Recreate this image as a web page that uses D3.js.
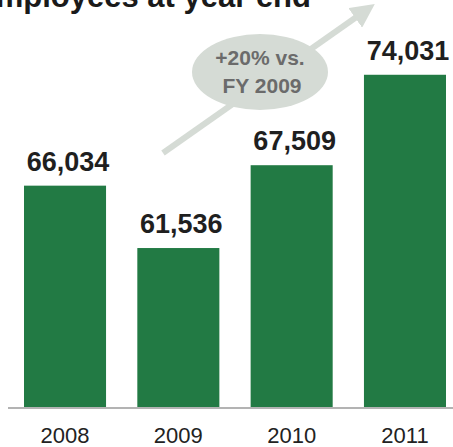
<!DOCTYPE html>
<html>
<head>
<meta charset="utf-8">
<script src="https://cdn.jsdelivr.net/npm/d3@7"></script>
<style>
  body { margin: 0; background: #fff; }
  svg { display: block; font-family: "Liberation Sans", Arial, sans-serif; }
</style>
</head>
<body>
<div class="chart"></div>
<script>
// chart data
var years = ["2008", "2009", "2010", "2011"];
var employees = [66034, 61536, 67509, 74031];
var title = "Employees at year end";
var growthNote = ["+20% vs.", "FY 2009"];

var width = 453, height = 447;
var baseY = 408;

var svg = d3.select(".chart").append("svg")
  .attr("width", width)
  .attr("height", height);

// x: one band per year
var xScale = d3.scaleBand()
  .domain(years)
  .range([24, 446])
  .paddingInner(0.276)
  .paddingOuter(0);

// y axis doesn't start at zero, starts around 50k
var yScale = d3.scaleLinear()
  .domain([50000, 80000])
  .range([baseY, -8]);

// title (top is cut off in the original)
svg.append("text")
  .attr("x", 311)
  .attr("y", 7)
  .attr("text-anchor", "end")
  .style("font-weight", "bold")
  .style("font-size", "31px")
  .style("fill", "#1a1a1a")
  .text(title);

// growth arrow
svg.append("defs").append("marker")
  .attr("id", "head")
  .attr("viewBox", "0 0 10 10")
  .attr("refX", 5)
  .attr("refY", 5)
  .attr("markerWidth", 4)
  .attr("markerHeight", 4)
  .attr("orient", "auto")
  .append("path")
  .attr("d", "M0,0 L10,5 L0,10 Z")
  .style("fill", "#d5dbd5");

svg.append("line")
  .attr("x1", 163).attr("y1", 153)
  .attr("x2", 365).attr("y2", 11)
  .style("stroke", "#d5dbd5")
  .style("stroke-width", 6)
  .attr("marker-end", "url(#head)");

// bars
svg.selectAll(".bar")
  .data(employees)
  .enter()
  .append("rect")
  .attr("class", "bar")
  .attr("x", (d, i) => xScale(years[i]))
  .attr("y", d => yScale(d))
  .attr("width", xScale.bandwidth())
  .attr("height", d => baseY - yScale(d))
  .style("fill", "#227a44");

// value labels above bars
svg.selectAll(".val")
  .data(employees)
  .enter()
  .append("text")
  .attr("class", "val")
  .attr("x", (d, i) => xScale(years[i]) + xScale.bandwidth() / 2 + 3)
  .attr("y", d => yScale(d) - 15)
  .attr("text-anchor", "middle")
  .style("font-weight", "bold")
  .style("font-size", "27px")
  .style("fill", "#1f1f1f")
  .text(d => d3.format(",")(d));

// baseline axis
var xAxis = d3.axisBottom(xScale).tickSize(0).tickPadding(19);
var axisG = svg.append("g")
  .attr("transform", `translate(0, ${baseY})`)
  .call(xAxis);
axisG.select(".domain")
  .attr("d", `M8,0H${width}`)
  .style("stroke", "#b3b3b3")
  .style("stroke-width", 2);
axisG.selectAll("text")
  .attr("dy", "0.71em")
  .style("font-family", "Liberation Sans, Arial, sans-serif")
  .style("font-size", "22px")
  .style("fill", "#222");

// ellipse note (drawn over the arrow)
var note = svg.append("g").attr("transform", "translate(260, 72)");
note.append("ellipse")
  .attr("rx", 68)
  .attr("ry", 38)
  .style("fill", "#d5dbd5");
note.selectAll("text")
  .data(growthNote)
  .enter()
  .append("text")
  .attr("x", (d, i) => i * 2)
  .attr("y", (d, i) => -7 + i * 28)
  .attr("text-anchor", "middle")
  .style("font-weight", "bold")
  .style("font-size", "21px")
  .style("fill", "#6b6b6b")
  .text(d => d);
</script>
</body>
</html>
